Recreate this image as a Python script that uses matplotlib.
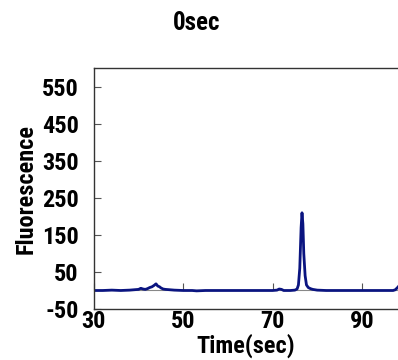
import matplotlib
matplotlib.use("Agg")
import matplotlib.pyplot as plt

plt.rcParams["axes.unicode_minus"] = False

time_sec = [30, 32, 34, 36, 38, 40, 40.5, 41, 41.5, 42, 42.5, 43, 43.5, 43.9, 44.3, 44.7, 45, 45.5, 46, 47, 48,
            50, 52, 53, 55, 60, 65, 70, 71, 71.5, 72, 72.5, 73, 74, 75, 75.5, 75.8, 76.1, 76.4, 76.6,
            76.8, 77.0, 77.3, 77.6, 78, 78.5, 79, 80, 82, 85, 90, 95, 97, 97.5, 98, 98.5]
fluorescence = [0, 0, 1, 0, 1, 3, 6, 4, 3, 5, 8, 10, 14, 18, 12, 10, 7, 4, 3, 2, 1,
                0, 0, -1, 0, 0, 0, 0, 1, 4, 3, 0, 0, 0, 1, 4, 15, 60, 170, 210,
                180, 100, 40, 15, 8, 5, 3, 1, 0, 0, 0, 0, 0, 2, 8, 15]

yticks = [-50, 50, 150, 250, 350, 450, 550]
xticks = [30, 50, 70, 90]

font = ["Roboto Condensed", "DejaVu Sans"]
fig = plt.figure(figsize=(3.98, 3.60), dpi=100)
ax = fig.add_axes([0.236, 0.1417, 0.764, 0.669])
ax.axhline(0, color="#888888", lw=0.8, zorder=1)
ax.plot(time_sec, fluorescence, color="#0a1480", lw=2.0, zorder=2)
ax.set_xlim(30, 98.1)
ax.set_ylim(-50, 601)
ax.spines["right"].set_visible(False)
for s in ["left", "top", "bottom"]:
    ax.spines[s].set_color("#333333")
    ax.spines[s].set_linewidth(1.0)
ax.set_yticks(yticks)
ax.set_xticks(xticks)
ax.tick_params(axis="y", direction="in", length=5, color="#555555", pad=11)
ax.tick_params(axis="x", length=0, pad=1)
for lab in ax.get_xticklabels() + ax.get_yticklabels():
    lab.set_fontfamily(font)
    lab.set_fontweight("bold")
    lab.set_fontsize(17.5)

sec = ax.secondary_xaxis(0, transform=ax.transData)
sec.set_xticks(xticks)
sec.tick_params(axis="x", direction="in", length=5, color="#555555", labelbottom=False)
sec.spines["bottom"].set_visible(False)

ax.set_xlabel("Time(sec)", fontfamily=font, fontweight="bold", fontsize=17.5, labelpad=0)
ax.set_ylabel("Fluorescence", fontfamily=font, fontweight="bold", fontsize=17.5, labelpad=3)
fig.suptitle("0sec", x=0.495, y=0.97, fontfamily=font, fontweight="bold", fontsize=18)
fig.savefig("out.png", dpi=100)
